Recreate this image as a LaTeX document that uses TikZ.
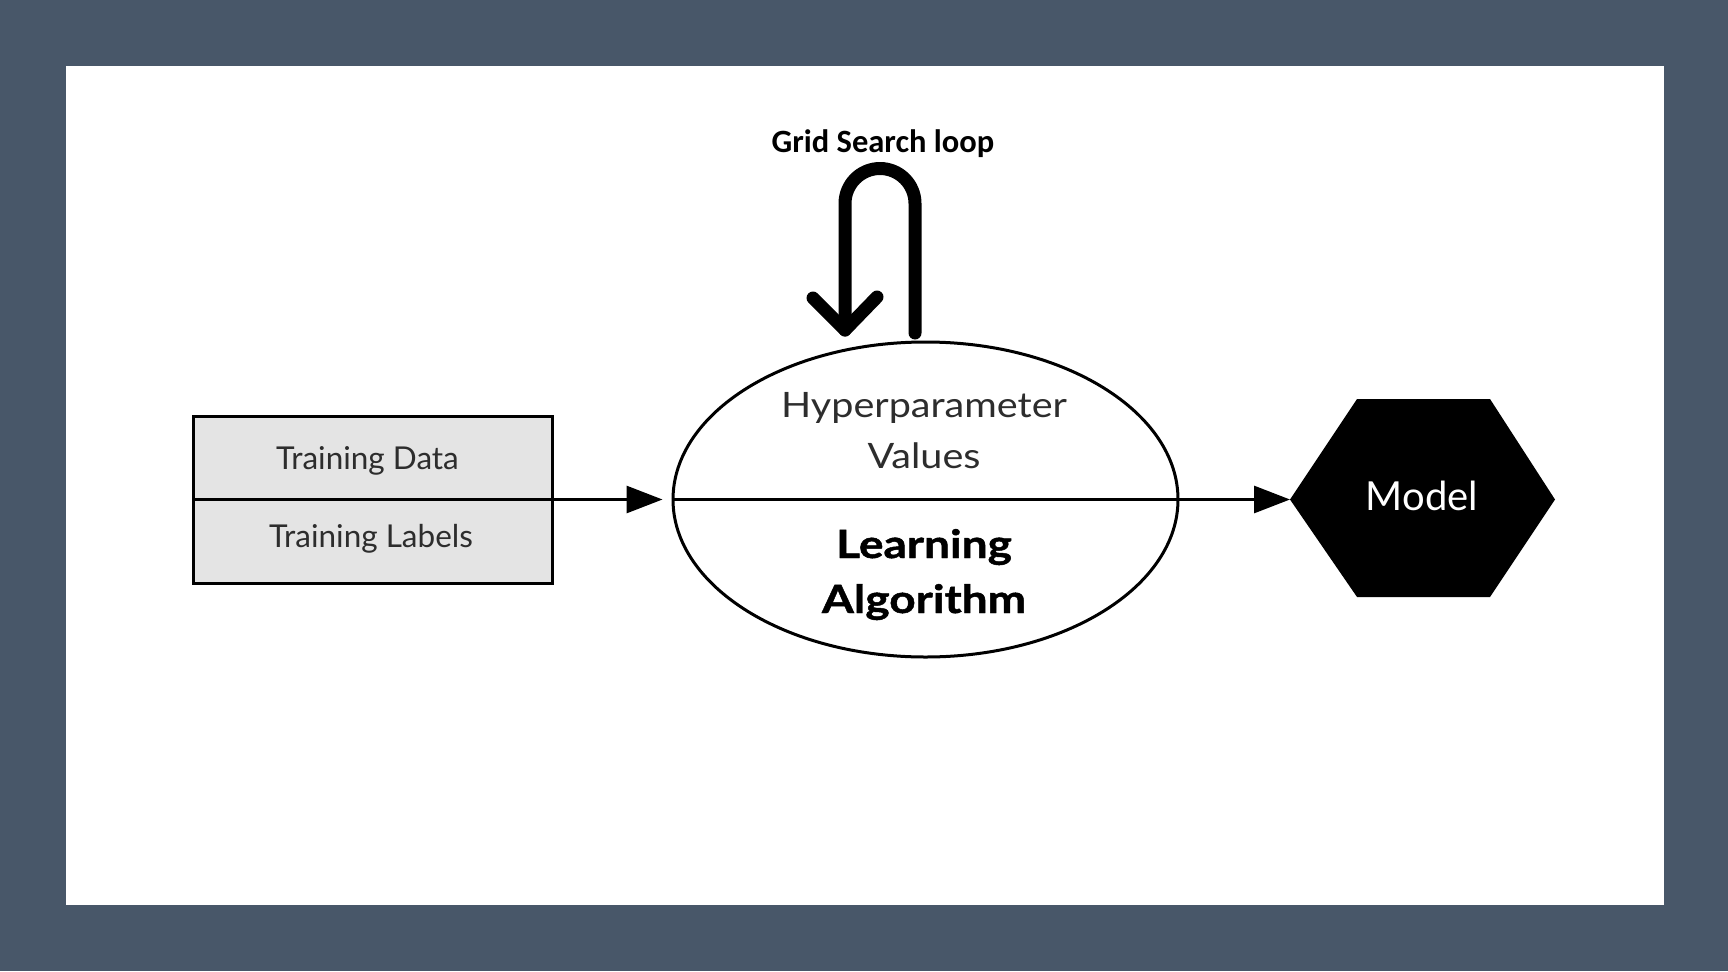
\documentclass[tikz,border=0pt]{standalone}
\usepackage{fontspec}
\setmainfont{Lato}
\newfontfamily\calib{Carlito}
\newfontfamily\widelato[FakeStretch=1.13]{Lato}
\newfontfamily\widelatobold[FakeStretch=1.18,FakeBold=1.2]{Lato Bold}
\usetikzlibrary{arrows.meta,shapes.geometric}
\definecolor{slate}{RGB}{72,87,105}
\definecolor{boxgray}{RGB}{228,228,228}
\definecolor{txtgray}{RGB}{45,45,45}
\tikzset{
  outline/.style={draw=black,line width=3pt},
  flow/.style={line width=3pt,-{Triangle[length=36pt,width=27pt]}},
  celltext/.style={text=txtgray,font=\fontsize{31.5}{36}\selectfont,anchor=base,inner sep=0pt},
  hyptext/.style={text=txtgray,font=\widelato\fontsize{35}{40}\selectfont,anchor=base,inner sep=0pt},
  algtext/.style={text=black,font=\widelatobold\fontsize{39}{44}\selectfont,anchor=base,inner sep=0pt},
  loopline/.style={line width=13pt,line cap=round,line join=round},
}
\begin{document}
\begin{tikzpicture}[x=1pt,y=-1pt]
\useasboundingbox (0,0) rectangle (1728,971);
\fill[slate] (0,0) rectangle (1728,971);
\fill[white] (66,66) rectangle (1664,905);

% stacked input box
\node[outline,fill=boxgray,minimum width=359pt,minimum height=83pt,inner sep=0pt] (data) at (372.5,457.5) {};
\node[outline,fill=boxgray,minimum width=359pt,minimum height=84pt,inner sep=0pt] (labels) at (372.5,541) {};
\node[celltext] (datatxt) at (367.5,469) {Training Data};
\node[celltext] (labtxt) at (371,547) {Training Labels};

% ellipse
\node[outline,ellipse,minimum width=505pt,minimum height=315pt,inner sep=0pt] (algo) at (925.5,499.5) {};
\draw[line width=3pt] (algo.west) -- (algo.east);
\node[hyptext] (hyp1) at (924,417) {Hyperparameter};
\node[hyptext] (hyp2) at (924,468) {Values};
\node[algtext] (alg1) at (924,558) {Learning};
\node[algtext] (alg2) at (924,613) {Algorithm};

% hexagon
\coordinate (hexc) at (1422.5,498);
\fill[black] (1290,499.5) -- (1357,399) -- (1490,399) -- (1555,499.5) -- (1490,597) -- (1357,597) -- cycle;
\node[text=white,font=\fontsize{40}{44}\selectfont,anchor=base,inner sep=0pt] (model) at (1422,510) {Model};
\coordinate (hexw) at (1290,499.5);

% flow arrows
\coordinate (boxe) at (552,499.5);
\draw[flow,shorten >=9pt] (boxe) -- (algo.west);
\draw[flow] (algo.east) -- (hexw);

% grid search loop
\node[font=\calib\bfseries\fontsize{32.5}{36}\selectfont,anchor=base,inner sep=0pt] (gs) at (883,153) {Grid Search loop};
\coordinate (loopstart) at (915,333);
\coordinate (looptip) at (845,330);
\draw[loopline] (loopstart) -- (915,203.5) arc[start angle=0,end angle=-180,radius=35] -- (looptip);
\draw[loopline] (813,298) -- (looptip) -- (877,297);
\end{tikzpicture}
\end{document}
